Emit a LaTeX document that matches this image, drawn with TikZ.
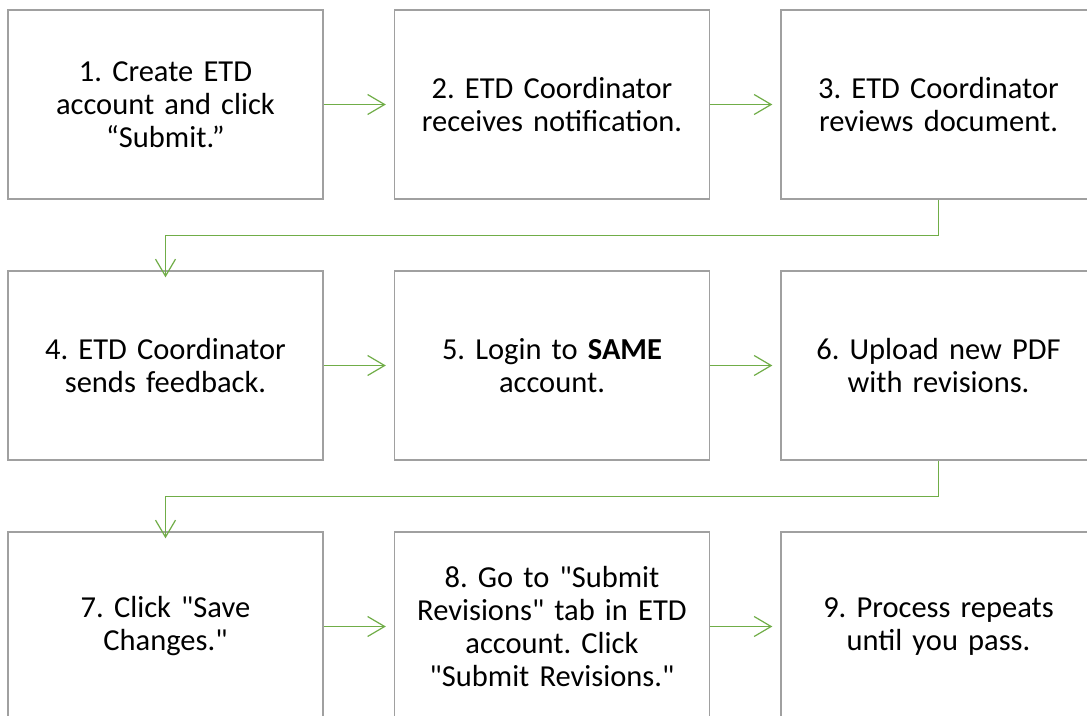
\documentclass[tikz,border=0pt]{standalone}
\usepackage{fontspec}
\setmainfont{Carlito}[Ligatures=TeXOff]
\usetikzlibrary{arrows.meta}
\definecolor{boxgray}{HTML}{A0A0A0}
\definecolor{flowgreen}{HTML}{70AD47}
\begin{document}
\frenchspacing
\begin{tikzpicture}[x=1pt,y=-1pt,
  stepbox/.style={draw=boxgray,line width=1.4pt,fill=white,minimum width=315pt,minimum height=189pt,
    inner sep=0pt,align=center,font=\fontsize{30.5}{33}\selectfont,text width=305pt},
  flow/.style={draw=flowgreen,line width=1.2pt,-{Straight Barb[length=17pt,width=20pt]}}]
\useasboundingbox (0,0) rectangle (1087,715);
\clip (0,0) rectangle (1087,715);
\fill[white] (0,0) rectangle (1087,715);
\node[stepbox] (s1) at (165.5,104.5) {1. Create ETD\\account and click\\“Submit.”};
\node[stepbox] (s2) at (552,104.5) {2. ETD Coordinator\\receives notification.};
\node[stepbox] (s3) at (938.5,104.5) {3. ETD Coordinator\\reviews document.};
\node[stepbox] (s4) at (165.5,365.5) {4. ETD Coordinator\\sends feedback.};
\node[stepbox] (s5) at (552,365.5) {5. Login to \textbf{SAME}\\account.};
\node[stepbox] (s6) at (938.5,365.5) {6. Upload new PDF\\with revisions.};
\node[stepbox] (s7) at (165.5,626.5) {7. Click "Save\\Changes."};
\node[stepbox] (s8) at (552,626.5) {8. Go to "Submit\\Revisions" tab in ETD\\account. Click\\"Submit Revisions."};
\node[stepbox] (s9) at (938.5,626.5) {9. Process repeats\\until you pass.};
\draw[flow] (s1.east) -- ([xshift=-8pt]s2.west);
\draw[flow] (s2.east) -- ([xshift=-8pt]s3.west);
\draw[flow] (s4.east) -- ([xshift=-8pt]s5.west);
\draw[flow] (s5.east) -- ([xshift=-8pt]s6.west);
\draw[flow] (s7.east) -- ([xshift=-8pt]s8.west);
\draw[flow] (s8.east) -- ([xshift=-8pt]s9.west);
\draw[flow] (s3.south) |- (165.5,235.5) -- ([yshift=-7pt]s4.north);
\draw[flow] (s6.south) |- (165.5,496.5) -- ([yshift=-7pt]s7.north);
\end{tikzpicture}
\end{document}
